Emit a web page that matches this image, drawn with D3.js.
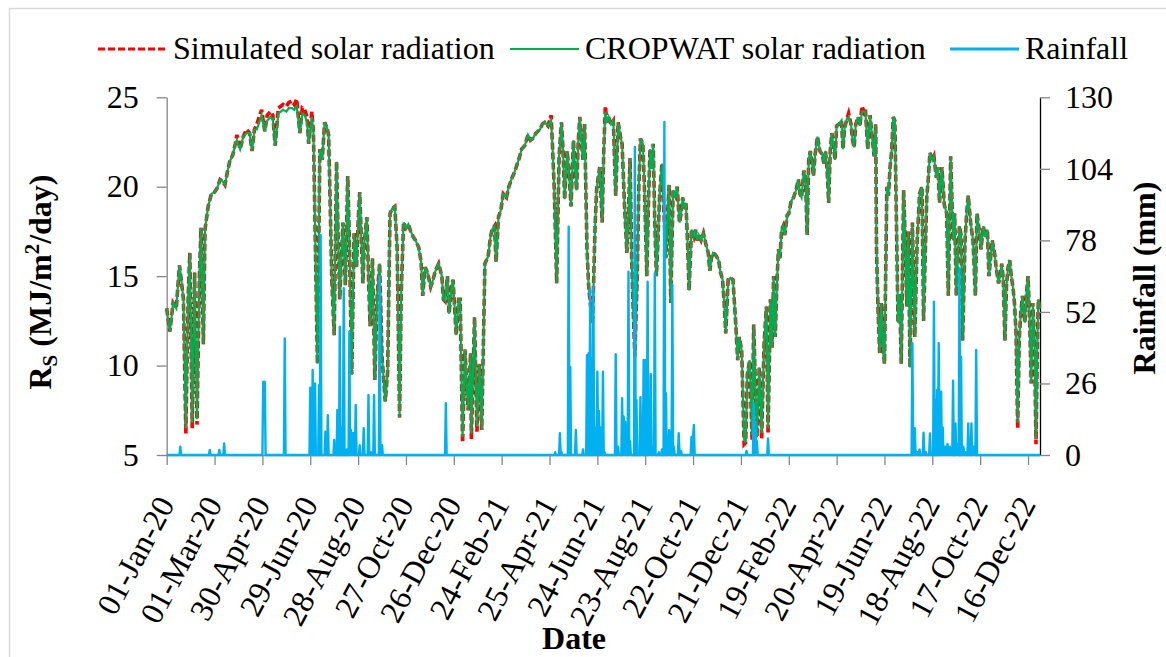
<!DOCTYPE html>
<html>
<head>
<meta charset="utf-8">
<script src="https://cdn.jsdelivr.net/npm/d3@7"></script>
<style>
  body { margin: 0; background: #fff; }
  svg { display: block; }
  text { font-family: "Liberation Serif", "Times New Roman", serif; fill: #000; }
</style>
</head>
<body>
<svg id="chart" width="1166" height="657"></svg>
<script>
// days counted from 01-Jan-20 at the turning points of the curves
const rsDays = [
  0, 2, 4, 8, 12, 16, 19, 21, 24, 27,
  29, 32, 35, 38, 41, 43, 46, 48, 52, 56,
  60, 63, 67, 70, 73, 76, 79, 83, 86, 88,
  92, 96, 100, 104, 107, 110, 113, 116, 119, 123,
  126, 130, 133, 136, 140, 143, 146, 150, 153, 157,
  160, 163, 167, 170, 173, 176, 178, 182, 184, 187,
  189, 191, 192, 195, 198, 201, 203, 205, 207, 210,
  213, 215, 217, 219, 221, 224, 227, 229, 232, 235,
  238, 240, 242, 246, 248, 251, 253, 255, 258, 261,
  264, 267, 270, 274, 277, 280, 283, 286, 289, 292,
  294, 297, 300, 303, 306, 309, 312, 316, 319, 321,
  324, 327, 331, 334, 337, 341, 345, 347, 349, 352,
  354, 357, 359, 363, 366, 368, 371, 374, 376, 378,
  381, 382, 386, 389, 392, 395, 399, 403, 406, 408,
  411, 413, 416, 419, 422, 426, 429, 433, 436, 439,
  442, 445, 449, 453, 456, 459, 463, 468, 471, 474,
  478, 482, 484, 486, 489, 492, 495, 497, 499, 502,
  504, 507, 510, 512, 514, 516, 518, 520, 522, 524,
  527, 529, 531, 534, 537, 539, 541, 543, 546, 548,
  550, 552, 554, 557, 560, 563, 566, 569, 571, 574,
  577, 579, 581, 583, 585, 587, 590, 592, 594, 597,
  599, 602, 604, 606, 608, 610, 612, 614, 616, 618,
  621, 623, 626, 628, 630, 632, 635, 638, 640, 643,
  645, 647, 649, 651, 653, 655, 658, 661, 663, 665,
  667, 670, 673, 676, 679, 681, 683, 685, 688, 692,
  694, 697, 699, 701, 704, 707, 710, 713, 716, 718,
  721, 724, 726, 728, 731, 734, 736, 738, 740, 743,
  746, 749, 752, 754, 757, 759, 761, 763, 765, 767,
  769, 771, 773, 775, 778, 780, 783, 786, 789, 792,
  794, 796, 799, 801, 803, 805, 807, 809, 811, 813,
  816, 819, 822, 824, 826, 828, 830, 832, 834, 836,
  838, 840, 843, 846, 848, 850, 853, 855, 858, 860,
  862, 864, 867, 869, 872, 874, 876, 879, 882, 884,
  887, 889, 890, 892, 894, 896, 898, 900, 903, 905,
  907, 909, 911, 913, 915, 917, 919, 921, 924, 926,
  928, 930, 932, 935, 938, 941, 944, 947, 949, 951,
  953, 955, 957, 960, 962, 965, 967, 969, 972, 975,
  978, 980, 983, 986, 988, 990, 993, 994, 996, 998,
  1001, 1003, 1005, 1008, 1011, 1014, 1016, 1019, 1021, 1024,
  1026, 1029, 1031, 1033, 1035, 1038, 1040, 1043, 1045, 1047,
  1049, 1051, 1053, 1055, 1057, 1059, 1061, 1063, 1065, 1067,
  1069, 1071, 1073, 1076, 1078, 1080, 1082, 1084, 1086, 1088,
  1090, 1092, 1093, 1095
];

// Simulated solar radiation (MJ/m2/day)
const rsSimulated = [
  13.2, 12.5, 11.9, 13.5, 13.2, 15.6, 14.5, 13.7, 6.2, 14.0,
  16.3, 6.5, 15.2, 6.7, 15.0, 17.7, 11.2, 17.6, 18.9, 19.6,
  19.7, 19.9, 20.4, 20.3, 20.1, 20.8, 21.4, 21.8, 22.4, 22.9,
  22.1, 22.8, 23.2, 23.0, 22.0, 23.2, 23.5, 23.9, 24.3, 23.1,
  24.0, 24.2, 24.0, 22.3, 24.4, 24.5, 24.6, 24.5, 24.7, 24.8,
  24.6, 24.9, 23.0, 24.4, 24.3, 23.9, 22.4, 24.2, 23.0, 15.2,
  10.1, 18.0, 22.1, 21.5, 23.6, 23.3, 22.9, 19.0, 14.8, 11.7,
  21.4, 17.0, 13.7, 16.0, 18.0, 14.5, 20.6, 17.0, 9.5, 17.4,
  15.5, 18.0, 19.7, 14.6, 17.0, 18.3, 15.0, 12.2, 16.0, 9.2,
  14.0, 15.7, 10.5, 8.0, 9.6, 18.5, 18.8, 18.9, 16.5, 7.1,
  14.0, 18.0, 17.7, 17.9, 17.5, 17.2, 17.0, 16.6, 15.8, 13.9,
  15.5, 15.2, 14.4, 14.8, 15.3, 15.7, 15.0, 13.7, 13.6, 15.0,
  12.9, 14.3, 14.8, 11.7, 13.7, 13.7, 5.7, 10.9, 9.0, 7.5,
  10.7, 5.9, 12.7, 6.3, 10.1, 6.4, 15.7, 16.1, 17.2, 17.6,
  17.8, 15.8, 18.3, 18.7, 19.6, 19.4, 20.0, 20.5, 20.8, 21.2,
  21.6, 22.1, 22.3, 22.9, 22.6, 22.7, 23.0, 23.2, 23.5, 23.6,
  23.4, 24.0, 22.0, 19.8, 14.6, 21.7, 23.6, 22.0, 19.3, 22.0,
  21.1, 18.9, 22.6, 21.0, 19.8, 22.5, 23.9, 22.5, 21.5, 23.5,
  16.5, 14.5, 13.5, 12.4, 17.6, 19.8, 20.5, 21.1, 18.0, 22.0,
  24.5, 23.6, 23.9, 23.5, 23.7, 19.5, 23.6, 22.8, 22.4, 19.0,
  16.3, 18.5, 21.6, 16.0, 13.0, 10.5, 15.0, 20.0, 22.7, 22.4,
  20.0, 15.0, 19.0, 22.1, 21.0, 22.4, 18.0, 15.0, 17.0, 19.5,
  21.3, 19.0, 16.0, 18.5, 20.1, 13.5, 19.8, 19.5, 20.0, 18.0,
  18.5, 19.4, 18.8, 19.1, 17.0, 14.2, 17.6, 17.2, 17.6, 17.0,
  17.3, 17.0, 17.4, 16.8, 16.3, 15.3, 16.0, 16.3, 16.2, 15.9,
  15.3, 14.8, 13.5, 11.8, 14.8, 14.9, 14.8, 12.7, 10.3, 11.6,
  10.8, 5.6, 5.7, 9.5, 10.3, 5.8, 12.3, 9.0, 6.0, 9.9,
  5.9, 11.2, 13.3, 6.2, 13.7, 11.0, 15.0, 11.6, 14.5, 16.5,
  16.0, 17.6, 17.8, 17.3, 18.4, 18.5, 19.2, 19.4, 19.8, 20.4,
  19.6, 19.4, 20.9, 20.5, 17.3, 21.5, 22.0, 21.4, 20.6, 21.8,
  22.8, 22.0, 21.8, 21.3, 22.0, 21.0, 19.1, 22.0, 23.0, 22.3,
  21.5, 23.4, 23.5, 23.7, 22.1, 23.3, 23.8, 24.1, 23.5, 22.6,
  22.2, 23.5, 23.9, 23.4, 24.5, 24.2, 24.4, 22.1, 24.0, 23.0,
  21.7, 23.5, 16.5, 13.0, 10.7, 13.5, 11.0, 10.1, 20.0, 19.5,
  21.1, 22.0, 23.9, 23.7, 18.0, 12.4, 14.0, 10.1, 19.8, 17.0,
  13.3, 17.5, 9.9, 18.0, 11.6, 17.0, 19.6, 20.0, 12.5, 16.0,
  19.4, 20.5, 21.9, 21.5, 21.7, 20.5, 21.1, 19.1, 21.1, 19.0,
  18.5, 13.9, 21.7, 17.0, 18.5, 13.9, 17.0, 17.8, 17.3, 11.4,
  17.0, 18.5, 19.5, 18.0, 17.0, 13.9, 18.5, 17.5, 16.5, 17.8,
  17.2, 17.6, 15.0, 16.0, 17.0, 16.3, 15.5, 14.6, 15.0, 15.7,
  14.8, 11.4, 14.5, 15.5, 15.9, 15.0, 14.4, 13.5, 11.8, 6.5,
  11.5, 13.0, 13.9, 12.4, 14.0, 15.0, 12.5, 9.0, 13.5, 11.5,
  5.6, 12.0, 13.7, 13.2
];

// CROPWAT solar radiation (MJ/m2/day)
const rsCropwat = [
  13.2, 12.5, 11.9, 13.5, 13.2, 15.6, 14.5, 13.7, 6.5, 14.0,
  16.3, 6.8, 15.2, 7.0, 15.0, 17.7, 11.2, 17.6, 18.9, 19.6,
  19.7, 19.9, 20.4, 20.3, 20.1, 20.8, 21.4, 21.8, 22.4, 22.6,
  22.1, 22.8, 23.0, 23.0, 22.0, 23.2, 23.2, 23.6, 24.0, 23.1,
  23.7, 23.9, 23.8, 22.3, 24.1, 24.2, 24.3, 24.2, 24.4, 24.4,
  24.3, 24.5, 23.0, 24.1, 24.0, 23.6, 22.4, 23.9, 23.0, 15.2,
  10.1, 18.0, 22.1, 21.5, 23.6, 23.3, 22.9, 19.0, 14.8, 11.7,
  21.4, 17.0, 13.7, 16.0, 18.0, 14.5, 20.6, 17.0, 9.5, 17.4,
  15.5, 18.0, 19.7, 14.6, 17.0, 18.3, 15.0, 12.2, 16.0, 9.2,
  14.0, 15.7, 10.5, 8.0, 9.6, 18.5, 18.8, 18.9, 16.5, 7.1,
  14.0, 18.0, 17.7, 17.9, 17.5, 17.2, 17.0, 16.6, 15.8, 13.9,
  15.5, 15.2, 14.4, 14.8, 15.3, 15.7, 15.0, 13.7, 13.6, 15.0,
  12.9, 14.3, 14.8, 11.7, 13.7, 13.7, 6.0, 10.9, 9.0, 7.5,
  10.7, 6.2, 12.7, 6.6, 10.1, 6.4, 15.7, 16.1, 17.2, 17.6,
  17.8, 15.8, 18.3, 18.7, 19.6, 19.4, 20.0, 20.5, 20.8, 21.2,
  21.6, 22.1, 22.3, 22.9, 22.6, 22.7, 23.0, 23.2, 23.5, 23.6,
  23.4, 23.7, 22.0, 19.8, 14.6, 21.7, 23.6, 22.0, 19.3, 22.0,
  21.1, 18.9, 22.6, 21.0, 19.8, 22.5, 23.9, 22.5, 21.5, 23.5,
  16.5, 14.5, 13.5, 12.4, 17.6, 19.8, 20.5, 21.1, 18.0, 22.0,
  24.2, 23.6, 23.9, 23.5, 23.7, 19.5, 23.6, 22.8, 22.4, 19.0,
  16.3, 18.5, 21.6, 16.0, 13.0, 10.5, 15.0, 20.0, 22.7, 22.4,
  20.0, 15.0, 19.0, 22.1, 21.0, 22.4, 18.0, 15.0, 17.0, 19.5,
  21.3, 19.0, 16.0, 18.5, 20.1, 13.5, 19.8, 19.5, 20.0, 18.0,
  18.5, 19.4, 18.8, 19.1, 17.0, 14.2, 17.6, 17.2, 17.6, 17.0,
  17.3, 17.0, 17.4, 16.8, 16.3, 15.3, 16.0, 16.3, 16.2, 15.9,
  15.3, 14.8, 13.5, 11.8, 14.8, 14.9, 14.8, 12.7, 10.3, 11.6,
  10.8, 5.9, 5.7, 9.5, 10.3, 6.1, 12.3, 9.0, 6.0, 9.9,
  6.2, 11.2, 13.3, 6.5, 13.7, 11.0, 15.0, 11.6, 14.5, 16.5,
  16.0, 17.6, 17.8, 17.3, 18.4, 18.5, 19.2, 19.4, 19.8, 20.4,
  19.6, 19.4, 20.9, 20.5, 17.3, 21.5, 22.0, 21.4, 20.6, 21.8,
  22.8, 22.0, 21.8, 21.3, 22.0, 21.0, 19.1, 22.0, 23.0, 22.3,
  21.5, 23.4, 23.5, 23.7, 22.1, 23.3, 23.8, 23.9, 23.5, 22.6,
  22.2, 23.5, 23.9, 23.4, 24.2, 24.2, 24.2, 22.1, 24.0, 23.0,
  21.7, 23.5, 16.5, 13.0, 10.7, 13.5, 11.0, 10.1, 20.0, 19.5,
  21.1, 22.0, 23.9, 23.7, 18.0, 12.4, 14.0, 10.1, 19.8, 17.0,
  13.3, 17.5, 9.9, 18.0, 11.6, 17.0, 19.6, 20.0, 12.5, 16.0,
  19.4, 20.5, 21.9, 21.5, 21.7, 20.5, 21.1, 19.1, 21.1, 19.0,
  18.5, 13.9, 21.7, 17.0, 18.5, 13.9, 17.0, 17.8, 17.3, 11.4,
  17.0, 18.5, 19.5, 18.0, 17.0, 13.9, 18.5, 17.5, 16.5, 17.8,
  17.2, 17.6, 15.0, 16.0, 17.0, 16.3, 15.5, 14.6, 15.0, 15.7,
  14.8, 11.4, 14.5, 15.5, 15.9, 15.0, 14.4, 13.5, 11.8, 6.8,
  11.5, 13.0, 13.9, 12.4, 14.0, 15.0, 12.5, 9.0, 13.5, 11.5,
  5.9, 12.0, 13.7, 13.2
];

// rainy days (days from 01-Jan-20) and rainfall in mm; every other day is 0
const rainDays = [
  17, 54, 66, 72, 121, 122, 123, 148, 180, 183,
  186, 191, 193, 199, 202, 210, 214, 217, 220, 222,
  226, 229, 231, 234, 237, 242, 247, 253, 256, 260,
  267, 270, 350,
  487, 493, 495, 504, 506, 513, 522, 527, 529, 531,
  533, 535, 537, 540, 542, 544, 547, 549, 563, 566,
  571, 573, 575, 579, 581, 587, 589, 594, 596, 598,
  600, 603, 605, 607, 610, 612, 617, 621, 624, 626,
  630, 634, 636, 642, 645, 658, 660, 661,
  727, 736, 738, 740, 754, 935, 938, 941, 944, 949,
  952, 957, 962, 964, 966, 968, 971, 973, 976, 979,
  982, 986, 989, 991, 994, 996, 999, 1002, 1005, 1009,
  1012, 1015
];
const rainMm = [
  3.0, 1.8, 1.8, 4.2, 26.6, 26.0, 26.6, 42.4, 24.5, 30.9,
  26.0, 25.4, 80.0, 8.5, 14.5, 5.5, 16.4, 46.6, 10.0, 60.6,
  2.0, 44.8, 9.1, 8.0, 18.2, 3.6, 9.7, 21.8, 1.0, 21.8,
  64.8, 3.6, 18.8,
  1.0, 7.9, 1.0, 83.0, 32.0, 9.1, 2.0, 36.3, 37.0, 60.0,
  35.0, 61.0, 10.0, 30.3, 16.0, 10.0, 30.3, 1.0, 36.6, 3.0,
  20.6, 14.0, 12.0, 66.6, 5.0, 112.0, 20.0, 21.0, 13.0, 34.5,
  34.5, 63.0, 10.0, 29.5, 3.0, 66.0, 1.0, 2.0, 121.0, 22.5,
  9.0, 62.0, 3.0, 7.9, 1.5, 6.6, 7.0, 10.9,
  1.5, 18.8, 12.0, 5.0, 6.0, 40.6, 9.7, 1.0, 2.0, 8.1,
  1.0, 7.8, 55.7, 20.0, 23.6, 40.6, 23.0, 10.0, 3.0, 4.0,
  3.0, 27.0, 11.5, 4.0, 67.8, 35.7, 3.0, 1.0, 11.5, 11.5,
  3.0, 38.2
];

const xTickLabels = [
  "01-Jan-20", "01-Mar-20", "30-Apr-20", "29-Jun-20", "28-Aug-20", "27-Oct-20",
  "26-Dec-20", "24-Feb-21", "25-Apr-21", "24-Jun-21", "23-Aug-21", "22-Oct-21",
  "21-Dec-21", "19-Feb-22", "20-Apr-22", "19-Jun-22", "18-Aug-22", "17-Oct-22",
  "16-Dec-22"
];
const rsTicks = [5, 10, 15, 20, 25];
const rainTicks = [0, 26, 52, 78, 104, 130];

const startDate = new Date(2020, 0, 1);
const endDate = new Date(2022, 11, 31);
const totalDays = d3.timeDay.count(startDate, endDate);

const parseTick = d3.timeParse("%d-%b-%y");
const fmtTick = d3.timeFormat("%d-%b-%y");
const dayToDate = d => d3.timeDay.offset(startDate, d);

const svg = d3.select("#chart");

// light frame round the chart area
svg.append("rect")
  .attr("x", 9.5).attr("y", 8.5)
  .attr("width", 1180).attr("height", 670)
  .attr("fill", "none")
  .attr("stroke", "#d9d9d9")
  .attr("stroke-width", 1.5);

const plot = { left: 166.7, right: 1040, top: 97.3, bottom: 455 };

const x = d3.scaleTime()
  .domain([startDate, endDate])
  .range([plot.left, plot.right]);

const yRs = d3.scaleLinear()
  .domain([5, 25])
  .range([plot.bottom, plot.top]);

const yRain = d3.scaleLinear()
  .domain([0, 130])
  .range([plot.bottom, plot.top]);

// axes
const gLeft = svg.append("g")
  .attr("transform", `translate(${plot.left},0)`)
  .call(d3.axisLeft(yRs).tickValues(rsTicks).tickSize(10).tickSizeOuter(0).tickPadding(18));
gLeft.select(".domain").attr("stroke", "#868686").attr("stroke-width", 1.3);
gLeft.selectAll(".tick line").attr("stroke", "#868686").attr("stroke-width", 1.3);
gLeft.selectAll(".tick text")
  .attr("font-family", "Liberation Serif")
  .attr("font-size", 32)
  .attr("fill", "#000");

const gRight = svg.append("g")
  .attr("transform", `translate(${plot.right},0)`)
  .call(d3.axisRight(yRain).tickValues(rainTicks).tickSize(10).tickSizeOuter(0).tickPadding(15));
gRight.select(".domain").attr("stroke", "#000").attr("stroke-width", 1.3);
gRight.selectAll(".tick line").attr("stroke", "#868686").attr("stroke-width", 1.3);
gRight.selectAll(".tick text")
  .attr("font-family", "Liberation Serif")
  .attr("font-size", 32)
  .attr("fill", "#000");

const gBottom = svg.append("g")
  .attr("transform", `translate(0,${plot.bottom})`)
  .call(d3.axisBottom(x)
    .tickValues(xTickLabels.map(parseTick))
    .tickFormat(fmtTick)
    .tickSize(10)
    .tickSizeOuter(0));
gBottom.select(".domain").attr("stroke", "#868686").attr("stroke-width", 1.3);
gBottom.selectAll(".tick line").attr("stroke", "#868686").attr("stroke-width", 1.3);
gBottom.selectAll(".tick text")
  .attr("font-family", "Liberation Serif")
  .attr("font-size", 32)
  .attr("fill", "#000")
  .attr("text-anchor", "end")
  .attr("dy", null)
  .attr("y", null)
  .attr("transform", "translate(8,49) rotate(-62)");

// solar radiation lines
const simData = rsDays.map((d, i) => ({ date: dayToDate(d), v: rsSimulated[i] }));
const cropData = rsDays.map((d, i) => ({ date: dayToDate(d), v: rsCropwat[i] }));

const rsLine = d3.line()
  .x(d => x(d.date))
  .y(d => yRs(d.v));

svg.append("path")
  .datum(simData)
  .attr("d", rsLine)
  .attr("fill", "none")
  .attr("stroke", "#ff0000")
  .attr("stroke-width", 3.6)
  .attr("stroke-dasharray", "7,3");

svg.append("path")
  .datum(cropData)
  .attr("d", rsLine)
  .attr("fill", "none")
  .attr("stroke", "#00b050")
  .attr("stroke-width", 2.2);

// rainfall, one value per day
const rainByDay = new Map(rainDays.map((d, i) => [d, rainMm[i]]));
const rainData = d3.range(totalDays + 1).map(d => ({ date: dayToDate(d), v: rainByDay.get(d) || 0 }));

svg.append("path")
  .datum(rainData)
  .attr("d", d3.line().x(d => x(d.date)).y(d => yRain(d.v)))
  .attr("fill", "none")
  .attr("stroke", "#00b0f0")
  .attr("stroke-width", 2.4)
  .attr("stroke-linejoin", "round");

// axis titles
const leftTitle = svg.append("text")
  .attr("transform", "translate(51,282) rotate(-90)")
  .attr("text-anchor", "middle")
  .attr("font-size", 32)
  .attr("font-weight", "bold");
leftTitle.append("tspan").text("R");
leftTitle.append("tspan").attr("font-size", 21).attr("dy", 6).text("S");
leftTitle.append("tspan").attr("dy", -6).text(" (MJ/m");
leftTitle.append("tspan").attr("font-size", 21).attr("dy", -12).text("2");
leftTitle.append("tspan").attr("dy", 12).text("/day)");

svg.append("text")
  .attr("transform", "translate(1155,278) rotate(-90)")
  .attr("text-anchor", "middle")
  .attr("font-size", 32)
  .attr("font-weight", "bold")
  .text("Rainfall (mm)");

svg.append("text")
  .attr("x", 574).attr("y", 649)
  .attr("text-anchor", "middle")
  .attr("font-size", 32)
  .attr("font-weight", "bold")
  .text("Date");

// legend
const legendItems = [
  { name: "Simulated solar radiation", color: "#ff0000", width: 3, dash: "7,3", x: 98 },
  { name: "CROPWAT solar radiation", color: "#00b050", width: 2, dash: null, x: 510 },
  { name: "Rainfall", color: "#00b0f0", width: 3, dash: null, x: 950 }
];
const legend = svg.append("g");
legendItems.forEach(item => {
  legend.append("line")
    .attr("x1", item.x).attr("x2", item.x + 69)
    .attr("y1", 49).attr("y2", 49)
    .attr("stroke", item.color)
    .attr("stroke-width", item.width)
    .attr("stroke-dasharray", item.dash);
  legend.append("text")
    .attr("x", item.x + 75).attr("y", 59)
    .attr("font-size", 32)
    .text(item.name);
});
</script>
</body>
</html>
